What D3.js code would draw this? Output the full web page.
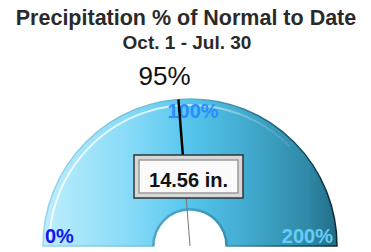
<!DOCTYPE html>
<html><head><meta charset="utf-8">
<script src="https://cdn.jsdelivr.net/npm/d3@7"></script>
<style>html,body{margin:0;padding:0;background:#fff;}svg{display:block;}</style>
</head><body>
<script>
const titleLines = ["Precipitation % of Normal to Date", "Oct. 1 - Jul. 30"];
const tickValues = [0, 100, 200];
const tickLabels = ["0%", "100%", "200%"];
const tickColors = ["#1414f0", "#2b8cff", "#66cdfa"];
const percentValue = [95];
const amountLabel = ["14.56 in."];

const W = 371, H = 252;
const cx = 190, cy = 246, rOuter = 147, rInner = 36;
const svg = d3.select("body").append("svg").attr("width", W).attr("height", H);
const defs = svg.append("defs");

const angle = d3.scaleLinear().domain([0, 200]).range([-Math.PI / 2, Math.PI / 2]);

function hGrad(id, stops) {
  const gr = defs.append("linearGradient").attr("id", id)
    .attr("gradientUnits", "userSpaceOnUse").attr("x1", -rOuter).attr("x2", rOuter).attr("y1", 0).attr("y2", 0);
  stops.forEach(([o, c, op]) => gr.append("stop").attr("offset", o).attr("stop-color", c)
    .attr("stop-opacity", op === undefined ? 1 : op));
}
hGrad("fillG", [[0, "#bdeefd"], [0.3, "#86daf7"], [0.5, "#55c5ed"], [0.72, "#3fa6ca"], [0.9, "#2f89a7"], [1, "#226c86"]]);
hGrad("edgeG", [[0, "#9ad6ea"], [0.5, "#5fb5d3"], [0.8, "#1f5f75"], [1, "#0a2a35"]]);
hGrad("hlG", [[0, "#ffffff", 0.85], [0.45, "#ffffff", 0.7], [0.75, "#ffffff", 0.15], [1, "#ffffff", 0]]);

const g = svg.append("g").attr("transform", `translate(${cx},${cy})`);

const band = d3.arc().innerRadius(rInner).outerRadius(rOuter)
  .startAngle(angle(0)).endAngle(angle(200));
g.append("path").attr("d", band()).attr("fill", "url(#fillG)")
  .attr("stroke", "url(#edgeG)").attr("stroke-width", 1.5);

// highlight bevel
const hiArc = d3.arc().innerRadius(rOuter - 7).outerRadius(rOuter - 5)
  .startAngle(angle(2)).endAngle(angle(150));
g.append("path").attr("d", hiArc()).attr("fill", "url(#hlG)");

// inner hole shading
const holeArc = d3.arc().innerRadius(rInner).outerRadius(rInner + 2)
  .startAngle(angle(0)).endAngle(angle(200));
g.append("path").attr("d", holeArc()).attr("fill", "#2a7fa0").attr("opacity", 0.5);

// tick labels
tickValues.forEach((v, i) => {
  const t = angle(v);
  let x, y, anchor;
  if (i === 0) { x = Math.sin(t) * rOuter + 2; y = -3; anchor = "start"; }
  else if (i === tickValues.length - 1) { x = Math.sin(t) * rOuter - 4; y = -3; anchor = "end"; }
  else { x = 3; y = -128; anchor = "middle"; }
  g.append("text").attr("x", x).attr("y", y).attr("text-anchor", anchor)
    .attr("font-family", "Liberation Sans, Arial, sans-serif").attr("font-weight", "bold")
    .attr("font-size", 20).attr("fill", tickColors[i]).text(tickLabels[i]);
});

// needle
const a = angle(percentValue[0]);
const nx = Math.sin(a), ny = -Math.cos(a);
g.append("line").attr("x1", 0).attr("y1", 0).attr("x2", nx * 48).attr("y2", ny * 48)
  .attr("stroke", "#777").attr("stroke-width", 1);
g.append("line").attr("x1", nx * 88).attr("y1", ny * 88).attr("x2", nx * rOuter).attr("y2", ny * rOuter)
  .attr("stroke", "#000").attr("stroke-width", 2.5);

// amount box
const bx = 134, by = 155, bw = 109, bh = 43;
svg.append("rect").attr("x", bx).attr("y", by).attr("width", bw).attr("height", bh)
  .attr("fill", "#d8d8d8").attr("stroke", "#333").attr("stroke-width", 1.5);
svg.append("rect").attr("x", bx + 5).attr("y", by + 5).attr("width", bw - 10).attr("height", bh - 10)
  .attr("fill", "#fafafa").attr("stroke", "#9a9a9a").attr("stroke-width", 1.5);
svg.append("text").attr("x", bx + bw / 2).attr("y", 187).attr("text-anchor", "middle")
  .attr("font-family", "Liberation Sans, Arial, sans-serif").attr("font-weight", "bold")
  .attr("font-size", 20).attr("fill", "#111").text(amountLabel[0]);

// titles
svg.append("text").attr("x", 186).attr("y", 25).attr("text-anchor", "middle")
  .attr("font-family", "Liberation Sans, Arial, sans-serif").attr("font-weight", "bold")
  .attr("font-size", 21.5).attr("fill", "#2a2a2a").text(titleLines[0]);
svg.append("text").attr("x", 187).attr("y", 49).attr("text-anchor", "middle")
  .attr("font-family", "Liberation Sans, Arial, sans-serif").attr("font-weight", "bold")
  .attr("font-size", 19).attr("fill", "#2a2a2a").text(titleLines[1]);

// percent value
svg.append("text").attr("x", 164.5).attr("y", 85).attr("text-anchor", "middle")
  .attr("font-family", "Liberation Sans, Arial, sans-serif")
  .attr("font-size", 26).attr("fill", "#111").text(percentValue[0] + "%");
</script>
</body></html>
